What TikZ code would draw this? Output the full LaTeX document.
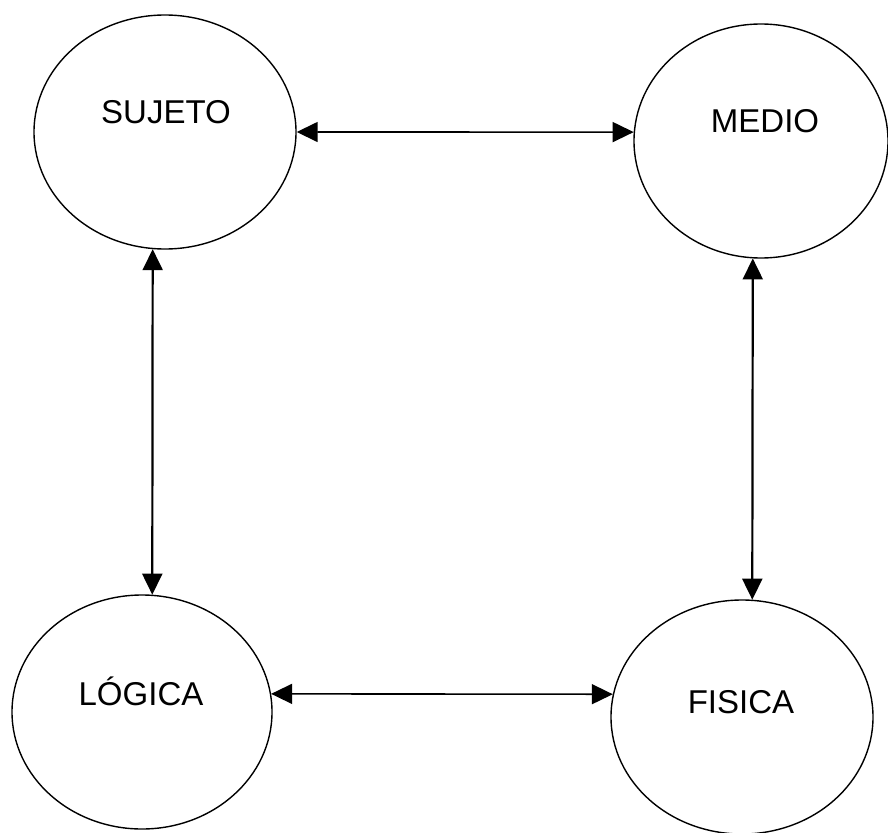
\documentclass[tikz,border=0pt]{standalone}
\usepackage{fontspec}
\setmainfont{Liberation Sans}
\usetikzlibrary{shapes.geometric,arrows.meta}
\tikzset{
  bubble/.style={draw, ellipse, line width=1.4pt, inner sep=0pt,
                 minimum width=262pt, minimum height=234pt},
  tag/.style={font=\fontsize{33}{36}\selectfont, inner sep=0pt},
  link/.style={line width=2.2pt, {Triangle[length=21pt,width=20pt]}-{Triangle[length=21pt,width=20pt]}}
}
\begin{document}
\begin{tikzpicture}[x=1pt,y=-1pt]
  \useasboundingbox (0,0) rectangle (888,832);
  % four concept bubbles
  \node[bubble] (s) at (165,132) {};
  \node[bubble, minimum width=254pt] (m) at (761,141) {};
  \node[bubble, minimum width=260pt] (l) at (142,712) {};
  \node[bubble] (f) at (742,717) {};
  % their titles
  \node[tag] (st) at (166,112) {SUJETO};
  \node[tag] (mt) at (765,121) {MEDIO};
  \node[tag] (lt) at (141,691) {LÓGICA};
  \node[tag] (ft) at (741,702) {FISICA};
  % two-way relations
  \draw[link, line width=1.6pt] (s.east) -- (m.176);
  \draw[link] (s.264) -- (l.85);
  \draw[link] (m.266) -- (f.85);
  \draw[link, line width=1.6pt] (l.8) -- (f.170);
\end{tikzpicture}
\end{document}
